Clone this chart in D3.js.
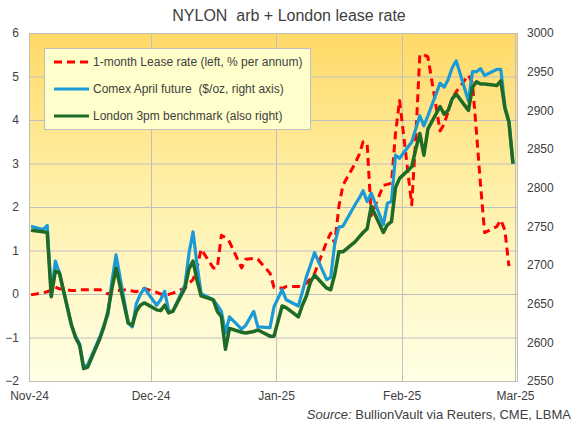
<!DOCTYPE html>
<html><head><meta charset="utf-8">
<script src="https://cdn.jsdelivr.net/npm/d3@7"></script>
<style>
html,body{margin:0;padding:0;background:#fff;}
svg{display:block;font-family:"Liberation Sans",Arial,sans-serif;}
</style></head>
<body>
<svg id="chart" width="577" height="428"></svg>
<script>
const dates = ["2024-11-01","2024-11-04","2024-11-05","2024-11-06","2024-11-07","2024-11-08",
"2024-11-11","2024-11-12","2024-11-13","2024-11-14","2024-11-15",
"2024-11-18","2024-11-19","2024-11-20","2024-11-21","2024-11-22",
"2024-11-25","2024-11-26","2024-11-27","2024-11-28","2024-11-29",
"2024-12-02","2024-12-03","2024-12-04","2024-12-05","2024-12-06",
"2024-12-09","2024-12-10","2024-12-11","2024-12-12","2024-12-13",
"2024-12-16","2024-12-17","2024-12-18","2024-12-19","2024-12-20",
"2024-12-23","2024-12-24","2024-12-26","2024-12-27",
"2024-12-30","2024-12-31","2025-01-02","2025-01-03",
"2025-01-06","2025-01-07","2025-01-08","2025-01-09","2025-01-10",
"2025-01-13","2025-01-14","2025-01-15","2025-01-16","2025-01-17",
"2025-01-20","2025-01-21","2025-01-22","2025-01-23","2025-01-24",
"2025-01-27","2025-01-28","2025-01-29","2025-01-30","2025-01-31",
"2025-02-03","2025-02-04","2025-02-05","2025-02-06","2025-02-07",
"2025-02-10","2025-02-11","2025-02-12","2025-02-13","2025-02-14",
"2025-02-17","2025-02-18","2025-02-19","2025-02-20","2025-02-21",
"2025-02-24","2025-02-25","2025-02-26","2025-02-27","2025-02-28"];

// 1-month lease rate, % per annum (left axis); null = no value
const leaseRate = [-0.02,0.03,0.05,0.10,0.16,0.12,
0.08,0.08,0.10,0.10,0.10,
0.10,0.05,0.00,0.06,0.08,
0.10,0.07,0.05,0.10,0.13,
0.04,0.00,-0.02,-0.01,0.02,
0.14,0.25,0.33,0.60,1.03,
0.60,0.60,1.35,1.30,1.20,
0.60,0.80,0.82,0.80,
0.48,0.15,0.13,0.17,
0.17,0.22,0.25,0.35,0.47,
1.20,1.40,1.16,2.00,2.50,
3.00,3.20,3.50,3.45,1.80,
2.50,2.52,2.55,3.70,4.45,
2.05,3.60,5.50,5.50,5.45,
3.75,3.90,4.20,4.50,4.65,
5.03,4.85,3.70,2.50,1.41,
1.55,1.70,1.47,0.64,null];

// Comex April future, $/oz (right axis)
const comex = [2750,2746,2751,2661,2705,2690,
2622,2608,2598,2568,2571,
2607,2622,2636,2680,2713,
2625,2620,2650,2662,2670,
2648,2655,2666,2640,2640,
2674,2715,2743,2700,2663,
2655,2648,2640,2612,2633,
2617,2622,2640,2620,
2619,2646,2668,2655,
2647,2665,2685,2700,2716,
2681,2684,2728,2749,2750,
2778,2786,2796,2782,2793,
2752,2780,2782,2842,2838,
2859,2876,2893,2880,2893,
2935,2930,2940,2955,2964,
2912,2950,2950,2954,2945,
2953,2953,2905,2885,2831];

// London 3pm benchmark, $/oz (right axis)
const london = [2745,2743,2742,2659,2692,2690,
2622,2606,2596,2566,2568,
2605,2620,2640,2670,2696,
2625,2622,2640,2648,2651,
2642,2641,2648,2638,2640,
2670,2695,2705,2680,2660,
2655,2640,2633,2591,2618,
2613,2612,2614,2616,
2608,2608,2647,2645,
2633,2648,2660,2678,2687,
2670,2668,2688,2717,2717,
2730,2736,2742,2747,2776,
2742,2752,2756,2800,2812,
2827,2850,2870,2842,2876,
2905,2895,2900,2915,2921,
2900,2930,2937,2934,2934,
2932,2938,2903,2885,2831];

const leftTicks = [-2,-1,0,1,2,3,4,5,6];
const rightTicks = [2550,2600,2650,2700,2750,2800,2850,2900,2950,3000];
const monthTicks = ["2024-11-01","2024-12-01","2025-01-01","2025-02-01","2025-03-01"];
const seriesNames = ["1-month Lease rate (left, % per annum)","Comex April future  ($/oz, right axis)","London 3pm benchmark (also right)"];
const seriesColors = ["#FF0000","#1A9BD7","#1D6B27"];

const svg = d3.select("#chart");
const P = {l:29, r:517, t:33, b:381};
const parse = d3.utcParse("%Y-%m-%d");
const x = d3.scaleUtc().domain([parse("2024-11-01"), parse("2025-03-01")]).range([P.l, 515]);
const yL = d3.scaleLinear().domain([-2,6]).range([P.b, P.t]);
const yR = d3.scaleLinear().domain([2550,3000]).range([P.b, P.t]);
const fmt = d3.utcFormat("%b-%y");
const halfDay = 12*3600*1000;

// gradient
const defs = svg.append("defs");
const g = defs.append("linearGradient").attr("id","bg").attr("x1",0).attr("y1",0).attr("x2",0).attr("y2",1);
g.append("stop").attr("offset","0%").attr("stop-color","#FFD966");
g.append("stop").attr("offset","45%").attr("stop-color","#FFF0A8");
g.append("stop").attr("offset","100%").attr("stop-color","#FFFFE6");
defs.append("clipPath").attr("id","clip").append("rect")
  .attr("x",P.l).attr("y",P.t-2).attr("width",P.r-P.l).attr("height",P.b-P.t+4);

svg.append("rect").attr("x",P.l).attr("y",P.t).attr("width",P.r-P.l).attr("height",P.b-P.t)
  .attr("fill","url(#bg)");

// grid
svg.append("g").selectAll("line").data(leftTicks).join("line")
  .attr("x1",P.l).attr("x2",P.r).attr("y1",d=>yL(d)+0.5).attr("y2",d=>yL(d)+0.5)
  .attr("stroke","#BFBFBF").attr("stroke-width",1);
svg.append("g").selectAll("line").data(monthTicks.map(parse)).join("line")
  .attr("x1",d=>Math.round(x(d))+0.5).attr("x2",d=>Math.round(x(d))+0.5).attr("y1",P.t).attr("y2",P.b)
  .attr("stroke","#BFBFBF").attr("stroke-width",1);
svg.append("rect").attr("x",P.l+0.5).attr("y",P.t+0.5).attr("width",P.r-P.l).attr("height",P.b-P.t)
  .attr("fill","none").attr("stroke","#BFBFBF");

// axes
const axL = svg.append("g").attr("transform",`translate(${P.l},0)`)
  .call(d3.axisLeft(yL).tickValues(leftTicks).tickSize(0).tickPadding(10).tickFormat(d3.format("d")));
const axR = svg.append("g").attr("transform",`translate(${P.r},0)`)
  .call(d3.axisRight(yR).tickValues(rightTicks).tickSize(0).tickPadding(10).tickFormat(d3.format("d")));
const axB = svg.append("g").attr("transform",`translate(0,${P.b})`)
  .call(d3.axisBottom(x).tickValues(monthTicks.map(parse)).tickSize(0).tickPadding(10).tickFormat(fmt));
[axL,axR,axB].forEach(a=>{
  a.select(".domain").remove();
  a.selectAll("text").attr("fill","#404040").style("font-size","12px")
   .style("font-family","'Liberation Sans',Arial,sans-serif");
});

// lines
const pts = dates.map(parse);
const plot = svg.append("g").attr("clip-path","url(#clip)");
const lineL = d3.line().defined(d=>d[1]!=null).x(d=>x(+d[0]+halfDay)).y(d=>yL(d[1]));
const lineR = d3.line().x(d=>x(+d[0]+halfDay)).y(d=>yR(d[1]));
plot.append("path").datum(pts.map((d,i)=>[d,leaseRate[i]]))
  .attr("d",lineL).attr("fill","none").attr("stroke",seriesColors[0]).attr("stroke-width",3)
  .attr("stroke-dasharray","8,5").attr("stroke-linejoin","round");
plot.append("path").datum(pts.map((d,i)=>[d,comex[i]]))
  .attr("d",lineR).attr("fill","none").attr("stroke",seriesColors[1]).attr("stroke-width",3.2)
  .attr("stroke-linejoin","round");
plot.append("path").datum(pts.map((d,i)=>[d,london[i]]))
  .attr("d",lineR).attr("fill","none").attr("stroke",seriesColors[2]).attr("stroke-width",3.5)
  .attr("stroke-linejoin","round");

// legend
const lg = svg.append("g");
lg.append("rect").attr("x",44.5).attr("y",48.5).attr("width",266).attr("height",81)
  .attr("fill","#FFFFCC").attr("stroke","#BFBFBF");
seriesNames.forEach((n,i)=>{
  const yy = 62 + i*27;
  lg.append("line").attr("x1",54).attr("x2",89).attr("y1",yy).attr("y2",yy)
    .attr("stroke",seriesColors[i]).attr("stroke-width",3.2)
    .attr("stroke-dasharray", i===0 ? "8,5" : null);
  lg.append("text").attr("x",93).attr("y",yy+4).attr("fill","#404040")
    .style("font-size","12px").style("white-space","pre").text(n);
});

// title
svg.append("text").attr("x",289).attr("y",21).attr("text-anchor","middle")
  .attr("fill","#404040").style("font-size","16px").style("white-space","pre")
  .text("NYLON  arb + London lease rate");

// source
const src = svg.append("text").attr("x",571).attr("y",419).attr("text-anchor","end")
  .attr("fill","#404040").style("font-size","13px");
src.append("tspan").style("font-style","italic").text("Source:");
src.append("tspan").text(" BullionVault via Reuters, CME, LBMA");
</script>
</body></html>
